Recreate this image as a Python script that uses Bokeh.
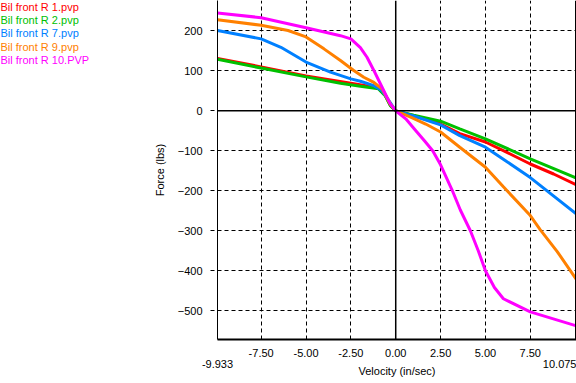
from bokeh.plotting import figure
from bokeh.layouts import row
from bokeh.models import Span, FixedTicker, Range1d, NumeralTickFormatter, LinearAxis
from bokeh.core.properties import value
from bokeh.embed import file_html
from bokeh.resources import INLINE

# ---- data ----
series_names = ["Bil front R 1.pvp", "Bil front R 2.pvp", "Bil front R 7.pvp",
                "Bil front R 9.pvp", "Bil front R 10.PVP"]
series_colors = ["#ff0000", "#00c000", "#0080ff", "#ff8000", "#ff00ff"]

r1_vel = [-9.933, -7.5, -5.0, -2.5, -1.0, -0.6, -0.3, 0.0, 1.0, 2.5, 3.57, 5.0, 6.2, 7.5, 8.8, 10.075]
r1_force = [131, 110, 87, 69, 58, 40, 14, 0, -12, -33, -57, -78, -104, -133, -158, -185]

r2_vel = [-9.933, -7.5, -5.0, -3.08, -1.97, -0.96, -0.59, -0.3, 0.0, 1.0, 2.5, 3.57, 5.0, 7.5, 10.075]
r2_force = [129, 107, 85, 69, 61.5, 55, 38, 13, 0, -11, -26, -45, -70, -120, -168]

r7_vel = [-9.933, -7.5, -6.4, -5.0, -3.64, -2.5, -1.97, -1.22, -0.76, -0.39, 0.0, 1.0, 2.5, 3.57, 5.0, 6.1, 7.5, 10.075]
r7_force = [201, 180, 159, 122, 97, 80, 74, 63, 50, 26, 0, -13, -35, -62, -91, -124, -167, -258]

r9_vel = [-9.933, -7.5, -6.0, -5.0, -4.0, -3.08, -2.34, -1.78, -1.22, -0.76, -0.3, 0.0, 0.83, 1.67, 2.5, 3.57, 5.0, 6.0, 7.5, 8.05, 9.0, 10.075]
r9_force = [228, 214, 201, 185, 155, 126, 101, 84, 71, 55, 17, 0, -16, -33, -53, -91, -141, -190, -262, -297, -352, -422]

r10_vel = [-9.933, -7.5, -5.0, -3.08, -2.5, -1.97, -1.6, -1.22, -0.76, -0.3, 0.0, 0.56, 1.11, 1.6, 2.06, 2.5, 3.16, 3.6, 4.16, 4.6, 5.0, 5.5, 6.0, 7.5, 10.075]
r10_force = [245, 233, 208, 188, 180, 158, 134, 101, 59, 17, 0, -20, -49, -75, -100, -135, -200, -248, -300, -350, -400, -442, -470, -503, -538]

x_ticks = [-7.5, -5.0, -2.5, 0.0, 2.5, 5.0, 7.5]
y_ticks = [-500, -400, -300, -200, -100, 0, 100, 200]
x_min, x_max = -9.933, 10.075
y_min, y_max = -572, 276

vels = [r1_vel, r2_vel, r7_vel, r9_vel, r10_vel]
forces = [r1_force, r2_force, r7_force, r9_force, r10_force]

FONT = "Liberation Sans"
W = 576
H = 383
LEG_W = 120

# ---- legend panel (coloured texts only) ----
leg = figure(width=LEG_W, height=H, output_backend="svg", toolbar_location=None,
             x_range=Range1d(0, LEG_W), y_range=Range1d(H, 0),
             min_border=0, outline_line_color=None)
leg.axis.visible = False
leg.grid.visible = False
leg.text(x=[0] * len(series_names), y=[7 + 15 * i for i in range(len(series_names))],
         text=series_names, text_color=series_colors, text_font=value(FONT),
         text_font_size="11px", text_baseline="middle", text_align="left")

# ---- main chart ----
p = figure(width=W - LEG_W, height=H, output_backend="svg", toolbar_location=None,
           x_range=Range1d(x_min, x_max), y_range=Range1d(y_min, y_max),
           min_border_left=97, min_border_right=0, min_border_top=0, min_border_bottom=44)
p.outline_line_color = None

# grid
p.xgrid.ticker = FixedTicker(ticks=[t for t in x_ticks if t != 0])
p.ygrid.ticker = FixedTicker(ticks=[t for t in y_ticks if t != 0])
for g in (p.xgrid, p.ygrid):
    g.grid_line_color = "black"
    g.grid_line_dash = "4 3"
    g.grid_line_width = 1

# axes
xa = p.xaxis[0]
xa.ticker = FixedTicker(ticks=x_ticks)
xa.formatter = NumeralTickFormatter(format="0.00")
xa.axis_line_width = 2
xa.axis_line_color = "black"
xa.major_tick_in = 0
xa.major_tick_out = 0
xa.minor_tick_line_color = None
xa.major_label_standoff = 9

# second bottom axis: the range's end values and the axis title
end_label_pos = [x_min, 9.2]
xa2 = LinearAxis(ticker=FixedTicker(ticks=end_label_pos),
                 major_label_overrides={x_min: "%.3f" % x_min, 9.2: "%.3f" % x_max},
                 axis_line_color=None, major_tick_line_color=None, minor_tick_line_color=None,
                 major_tick_in=0, major_tick_out=0, major_label_standoff=0,
                 axis_label="Velocity (in/sec)", axis_label_standoff=-6)
p.add_layout(xa2, "below")

ya = p.yaxis[0]
ya.ticker = FixedTicker(ticks=y_ticks)
ya.axis_line_width = 1
ya.axis_line_color = "black"
ya.major_tick_in = 0
ya.major_tick_out = 7
ya.major_tick_line_dash = "4 3"
ya.minor_tick_line_color = None
ya.major_label_standoff = 8
ya.axis_label = "Force (lbs)"
ya.axis_label_standoff = 9

for ax in (xa, xa2, ya):
    ax.major_label_text_font = FONT
    ax.major_label_text_font_size = "11px"
    ax.major_label_text_color = "black"
    ax.axis_label_text_font = FONT
    ax.axis_label_text_font_size = "11px"
    ax.axis_label_text_color = "black"
    ax.axis_label_text_font_style = "normal"

# zero lines and right edge
p.add_layout(Span(location=0, dimension="height", line_color="black", line_width=1.5))
p.add_layout(Span(location=0, dimension="width", line_color="black", line_width=1.5))
p.add_layout(Span(location=x_max, dimension="height", line_color="black", line_width=3))

# curves
for v, f, c in zip(vels, forces, series_colors):
    p.line(v, f, line_color=c, line_width=3)

layout = row(leg, p, spacing=0)
open("out.html", "w").write(file_html(layout, INLINE))
